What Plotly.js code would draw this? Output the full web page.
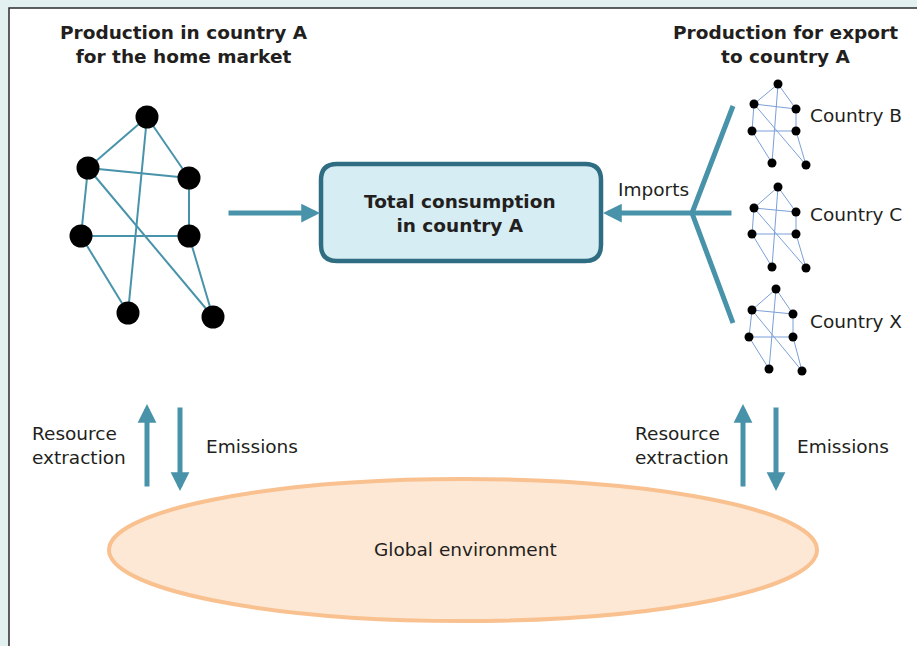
<!DOCTYPE html>
<html>
<head>
<meta charset="utf-8">
<script src="https://cdn.plot.ly/plotly-3.0.1.min.js"></script>
<style>
  html, body { margin: 0; padding: 0; background: #e2f1f0; }
  #chart { width: 917px; height: 646px; }
</style>
</head>
<body>
<div id="chart"></div>
<script>
// Node positions (pixel space, y downwards)
// order: top, upper-left, upper-right, mid-left, mid-right, bottom-left, bottom-right
const homeX = [147, 88, 189, 81, 189, 128, 213];
const homeY = [117, 168, 178, 236, 236, 313, 317];

const countryBX = [778, 754, 796, 752, 796, 772, 806];
const countryBY = [84, 104, 109, 131, 131, 163, 165];
const countryCX = [778, 754, 796, 752, 796, 772, 806];
const countryCY = [187, 208, 212, 234, 234, 267, 268];
const countryXX = [776, 752, 793, 749, 793, 769, 802];
const countryXY = [289, 310, 314, 337, 337, 369, 371];

// which nodes are linked
const EDGES = [[0, 1], [0, 2], [0, 5], [1, 2], [1, 3], [1, 6], [2, 4], [3, 4], [3, 5], [4, 6]];

const countryLabels = ['Country B', 'Country C', 'Country X'];
const countryLabelY = [115, 214, 321];

const TEAL = '#4893aa';
const FONT = 'DejaVu Sans, Verdana, sans-serif';
const TEXT = '#231f20';
const FS = 18.5;

function edgeTrace(xs, ys, color, width) {
    const x = [];
    const y = [];
    EDGES.forEach(([a, b]) => {
        x.push(xs[a], xs[b], null);
        y.push(ys[a], ys[b], null);
    });
    return {
        x: x, y: y, mode: 'lines', type: 'scatter', hoverinfo: 'skip',
        line: { color: color, width: width }
    };
}

function nodeTrace(xs, ys, size) {
    return {
        x: xs, y: ys, mode: 'markers', type: 'scatter', hoverinfo: 'skip',
        marker: { color: '#000000', size: size, line: { width: 0 } }
    };
}

const traces = [
    edgeTrace(homeX, homeY, TEAL, 2),
    nodeTrace(homeX, homeY, 23)
];
[[countryBX, countryBY], [countryCX, countryCY], [countryXX, countryXY]].forEach(([xs, ys]) => {
    traces.push(edgeTrace(xs, ys, '#7b9fd8', 1));
    traces.push(nodeTrace(xs, ys, 9));
});

// rounded rectangle path for the consumption box
function roundRect(x0, y0, x1, y1, r) {
    return `M${x0 + r},${y0} L${x1 - r},${y0} Q${x1},${y0} ${x1},${y0 + r} ` +
        `L${x1},${y1 - r} Q${x1},${y1} ${x1 - r},${y1} L${x0 + r},${y1} ` +
        `Q${x0},${y1} ${x0},${y1 - r} L${x0},${y0 + r} Q${x0},${y0} ${x0 + r},${y0} Z`;
}

const shapes = [
    // white panel
    {
        type: 'rect', xref: 'x', yref: 'y', x0: 9, y0: 8, x1: 930, y1: 660,
        fillcolor: '#ffffff', line: { color: '#2b2b2b', width: 1.5 }, layer: 'below'
    },
    {
        type: 'path', xref: 'x', yref: 'y', path: roundRect(321, 164, 601, 261, 16),
        fillcolor: '#d6edf3', line: { color: '#2f6e82', width: 4.5 }, layer: 'below'
    },
    // import fork
    {
        type: 'path', xref: 'x', yref: 'y', path: 'M733,106 L692,213 L733,323',
        line: { color: TEAL, width: 5 }
    },
    // environment ellipse
    {
        type: 'circle', xref: 'x', yref: 'y', x0: 109, x1: 817, y0: 479, y1: 621,
        fillcolor: '#fde8d5', line: { color: '#f9c18f', width: 4 }, layer: 'below'
    }
];

function arrow(tipX, tipY, tailX, tailY) {
    return {
        x: tipX, y: tipY, ax: tailX, ay: tailY, xref: 'x', yref: 'y', axref: 'x', ayref: 'y',
        text: '', showarrow: true, arrowhead: 2, arrowsize: 0.75, arrowwidth: 5, arrowcolor: TEAL
    };
}

function label(x, y, text, opts) {
    return Object.assign({
        x: x, y: y, xref: 'x', yref: 'y', text: text, showarrow: false,
        font: { family: FONT, size: FS, color: TEXT }, xanchor: 'center', yanchor: 'middle'
    }, opts || {});
}

const annotations = [
    label(184, 44, '<b>Production in country A<br>for the home market</b>'),
    label(785, 44, '<b>Production for export<br>to country A</b>'),
    label(460, 213, '<b>Total consumption<br>in country A</b>'),
    label(616, 189, 'Imports', { xanchor: 'left' }),
    arrow(320, 213, 227, 213),
    arrow(603, 213, 733, 213),
    arrow(147, 404, 147, 488),
    arrow(180, 491, 180, 406),
    arrow(743, 404, 743, 488),
    arrow(776, 491, 776, 406),
    label(30, 445, 'Resource<br>extraction', { xanchor: 'left', align: 'left' }),
    label(204, 446, 'Emissions', { xanchor: 'left' }),
    label(633, 445, 'Resource<br>extraction', { xanchor: 'left', align: 'left' }),
    label(795, 446, 'Emissions', { xanchor: 'left' }),
    label(465, 549, 'Global environment')
];
countryLabels.forEach((name, i) => {
    annotations.push(label(808, countryLabelY[i], name, { xanchor: 'left' }));
});

const layout = {
    width: 917,
    height: 646,
    margin: { l: 0, r: 0, t: 0, b: 0 },
    paper_bgcolor: '#e2f1f0',
    plot_bgcolor: 'rgba(0,0,0,0)',
    showlegend: false,
    xaxis: { range: [0, 917], visible: false, fixedrange: true },
    yaxis: { range: [646, 0], visible: false, fixedrange: true },
    shapes: shapes,
    annotations: annotations
};

Plotly.newPlot('chart', traces, layout, { displayModeBar: false, staticPlot: true });
</script>
</body>
</html>
